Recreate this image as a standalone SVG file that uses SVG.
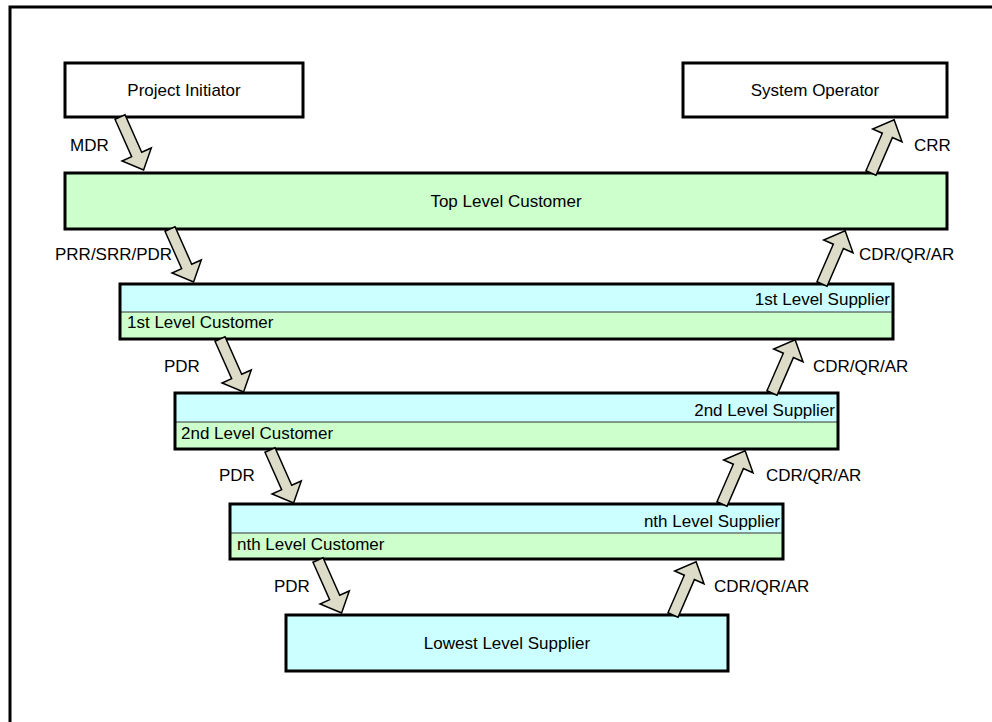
<svg xmlns="http://www.w3.org/2000/svg" width="992" height="722" viewBox="0 0 992 722">
<style>
text{font-family:"Liberation Sans",Arial,sans-serif;font-size:17px;fill:#000}
.box{stroke:#000;stroke-width:3}
.w{fill:#fff}.g{fill:#ccffcc}.c{fill:#ccffff}
.div{stroke:#333;stroke-width:1}
.arr{fill:#dcdcc8;stroke:#000;stroke-width:1.5;stroke-linejoin:miter}
.mid{text-anchor:middle}.end{text-anchor:end}
</style>
<defs>
<path id="ar" d="M-5.5,0 L5.5,0 L5.5,41 L16,41 L0,58 L-16,41 L-5.5,41 Z"/>
</defs>
<rect x="10" y="7" width="1000" height="800" fill="#fff" stroke="#000" stroke-width="3"/>
<g id="project-initiator"><rect class="box w" x="65" y="63" width="238" height="54"/><text class="mid" x="184" y="96">Project Initiator</text></g>
<g id="system-operator"><rect class="box w" x="683" y="63" width="264" height="54"/><text class="mid" x="815" y="96">System Operator</text></g>
<g id="top-level-customer"><rect class="box g" x="65" y="173" width="882" height="56"/><text class="mid" x="506" y="207">Top Level Customer</text></g>
<g id="level-1">
<rect class="c" x="120" y="284" width="773" height="28"/><rect class="g" x="120" y="312" width="773" height="27"/>
<line class="div" x1="120" y1="312" x2="893" y2="312"/>
<rect class="box" fill="none" x="120" y="284" width="773" height="55"/>
<text class="end" x="890" y="305">1st Level Supplier</text><text x="127" y="328">1st Level Customer</text></g>
<g id="level-2">
<rect class="c" x="175" y="393" width="663" height="29"/><rect class="g" x="175" y="422" width="663" height="27"/>
<line class="div" x1="175" y1="422" x2="838" y2="422"/>
<rect class="box" fill="none" x="175" y="393" width="663" height="56"/>
<text class="end" x="835" y="416">2nd Level Supplier</text><text x="181" y="439">2nd Level Customer</text></g>
<g id="level-n">
<rect class="c" x="230" y="504" width="553" height="29"/><rect class="g" x="230" y="533" width="553" height="26"/>
<line class="div" x1="230" y1="533" x2="783" y2="533"/>
<rect class="box" fill="none" x="230" y="504" width="553" height="55"/>
<text class="end" x="780" y="527">nth Level Supplier</text><text x="237" y="550">nth Level Customer</text></g>
<g id="lowest-level-supplier"><rect class="box c" x="286" y="615" width="442" height="56"/><text class="mid" x="507" y="649">Lowest Level Supplier</text></g>
<g id="connectors">
<use href="#ar" class="arr" transform="translate(120,117) rotate(-24)"/>
<use href="#ar" class="arr" transform="translate(170,229) rotate(-24)"/>
<use href="#ar" class="arr" transform="translate(220,339) rotate(-24)"/>
<use href="#ar" class="arr" transform="translate(270,450) rotate(-24)"/>
<use href="#ar" class="arr" transform="translate(318,560) rotate(-24)"/>
<use href="#ar" class="arr" transform="translate(871,173) rotate(-156.5)"/>
<use href="#ar" class="arr" transform="translate(822,284) rotate(-156.5)"/>
<use href="#ar" class="arr" transform="translate(772,393) rotate(-156.5)"/>
<use href="#ar" class="arr" transform="translate(722,504) rotate(-156.5)"/>
<use href="#ar" class="arr" transform="translate(673,615) rotate(-156.5)"/>
<text x="70" y="151">MDR</text>
<text x="55" y="260">PRR/SRR/PDR</text>
<text x="164" y="372">PDR</text>
<text x="219" y="481">PDR</text>
<text x="274" y="592">PDR</text>
<text x="914" y="151">CRR</text>
<text x="859" y="260">CDR/QR/AR</text>
<text x="813" y="372">CDR/QR/AR</text>
<text x="766" y="481">CDR/QR/AR</text>
<text x="714" y="592">CDR/QR/AR</text>
</g>
</svg>
